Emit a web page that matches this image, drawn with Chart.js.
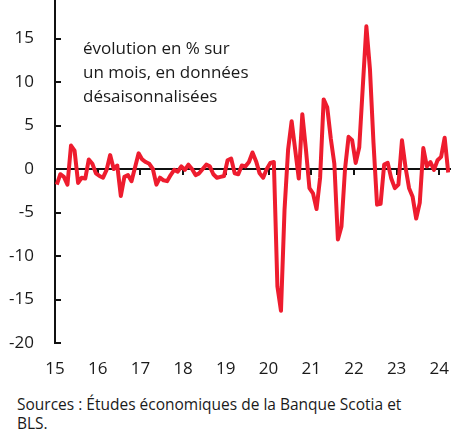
<!DOCTYPE html>
<html>
<head>
<meta charset="utf-8">
<script src="https://cdn.jsdelivr.net/npm/chart.js@4"></script>
<style>
  html, body { margin: 0; padding: 0; background: #fff; }
  body { width: 451px; height: 430px; position: relative; overflow: hidden; font-family: 'Open Sans', sans-serif; color: #1a1a1a; }
  #wrap { position: absolute; left: 0; top: -5px; width: 451px; height: 384px; }
  #note { position: absolute; left: 83px; top: 36px; font-size: 17px; line-height: 24px; }
  #source { position: absolute; left: 17px; top: 395px; font-size: 15.5px; line-height: 18.5px; }
</style>
</head>
<body>
<div id="wrap"><canvas id="myChart"></canvas></div>
<div id="note">évolution en % sur<br>un mois, en données<br>désaisonnalisées</div>
<div id="source">Sources : Études économiques de la Banque Scotia et<br>BLS.</div>
<script>
const lineColor = '#ee1c2e'
const axisColor = '#111111'
const textColor = '#1a1a1a'

// monthly change, % (Jan 2015 - Mar 2024)
const firstYear = 2015
const values2015 = [-1.8, -0.6, -0.9, -1.8, 2.7, 2.1, -1.6, -1.0, -1.1, 1.1, 0.6, -0.5]
const values2016 = [-0.8, -1.0, -0.1, 1.6, 0.0, 0.4, -3.1, -0.9, -0.7, -1.4, 0.2, 1.8]
const values2017 = [1.1, 0.8, 0.6, 0.0, -1.8, -1.0, -1.3, -1.4, -0.7, -0.1, -0.3, 0.3]
const values2018 = [-0.1, 0.5, 0.0, -0.7, -0.5, 0.0, 0.5, 0.3, -0.6, -1.0, -0.9, -0.8]
const values2019 = [1.0, 1.2, -0.5, -0.6, 0.4, 0.3, 0.8, 1.9, 0.9, -0.5, -1.0, 0.0]
const values2020 = [0.7, 0.8, -13.5, -16.3, -4.7, 2.2, 5.5, 2.2, -1.1, 6.3, 2.3, -2.2]
const values2021 = [-2.8, -4.6, -1.0, 8.0, 7.1, 3.5, 0.6, -8.1, -6.6, 0.0, 3.7, 3.3]
const values2022 = [0.7, 2.5, 9.5, 16.4, 11.5, 3.0, -4.1, -4.0, 0.5, 0.7, -1.1, -2.2]
const values2023 = [-1.8, 3.3, 0.2, -2.2, -3.2, -5.7, -3.9, 2.4, 0.3, 0.8, -0.1, 1.0]
const values2024 = [1.4, 3.6, -0.4]

const yearTicks = [2015, 2016, 2017, 2018, 2019, 2020, 2021, 2022, 2023, 2024]
const yTicks = [-20, -15, -10, -5, 0, 5, 10, 15, 20]

const allValues = [].concat(values2015, values2016, values2017, values2018, values2019,
  values2020, values2021, values2022, values2023, values2024)
const points = allValues.map(function(v, i) {
  return { x: firstYear + (i + 0.5) / 12, y: v }
})

const tickFont = { family: "'Open Sans', sans-serif", size: 17 }
const xMin = 2015
const xMax = 2024.25

function yearTickList(s) {
  s.ticks = yearTicks.map(function(v) { return { value: v } })
}

var ctx = document.getElementById('myChart')
var lineChart = new Chart(ctx, {
  type: 'line',
  data: {
    datasets: [{
      data: points,
      xAxisID: 'x',
      yAxisID: 'y',
      borderColor: lineColor,
      borderWidth: 4,
      pointRadius: 0,
      tension: 0,
      borderJoinStyle: 'round',
      fill: false,
    }]
  },
  options: {
    responsive: true,
    maintainAspectRatio: false,
    animation: false,
    layout: { padding: { right: 1 } },
    plugins: { legend: { display: false }, tooltip: { enabled: false } },
    scales: {
      x: {
        type: 'linear',
        min: xMin,
        max: xMax,
        afterBuildTicks: yearTickList,
        afterFit: function(s) { s.height = 36; s.paddingLeft = 0; s.paddingRight = 0 },
        grid: { display: false },
        border: { display: false },
        ticks: {
          padding: 8,
          color: textColor,
          font: tickFont,
          maxRotation: 0,
          callback: function(v) { return String(v).slice(2) }
        }
      },
      x2: {
        type: 'linear',
        axis: 'x',
        position: { y: 0 },
        min: xMin,
        max: xMax,
        afterBuildTicks: yearTickList,
        afterFit: function(s) { s.paddingLeft = 0; s.paddingRight = 0 },
        grid: { drawOnChartArea: false, tickLength: 5, color: axisColor, lineWidth: 2 },
        border: { color: axisColor, width: 2 },
        ticks: { display: false }
      },
      y: {
        min: -20,
        max: 20,
        afterBuildTicks: function(s) { s.ticks = yTicks.map(function(v) { return { value: v } }) },
        afterFit: function(s) { s.width = 55; s.paddingTop = 0; s.paddingBottom = 0 },
        grid: { drawOnChartArea: false, tickLength: -6, color: axisColor, lineWidth: 2 },
        border: { color: axisColor, width: 2 },
        ticks: { padding: 27, color: textColor, font: tickFont }
      }
    }
  }
})
</script>
</body>
</html>
